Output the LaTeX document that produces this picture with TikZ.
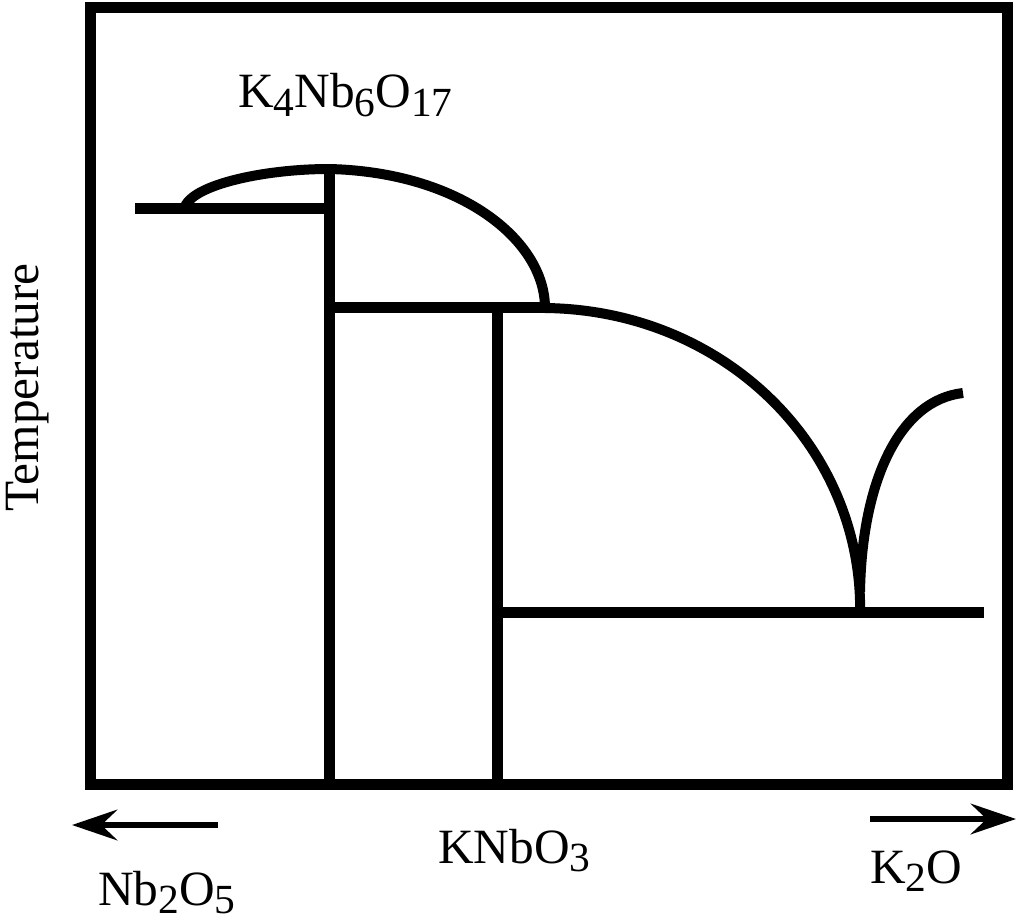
\documentclass[tikz,border=0pt]{standalone}
\usepackage{fontspec}
\setmainfont{Liberation Serif}
\usetikzlibrary{arrows.meta}
\newcommand{\chemsub}[1]{\raisebox{-0.18em}{\scalebox{0.84}{#1}}}

\begin{document}
\begin{tikzpicture}[x=0.75pt,y=0.75pt,yscale=-1,xscale=1,
    frame/.style={line width=8.25pt},
    phaseline/.style={line width=8.25pt},
    liquidus/.style={line width=7.5pt},
    axisarrow/.style={line width=4.5pt,-{Stealth[length=34pt,width=23pt,inset=12pt]}},
    lbl/.style={inner sep=0pt,font=\fontsize{37}{40}\selectfont}]
        \useasboundingbox (0,0) rectangle (1024,924);

        %Frame
        \draw[frame] (90.5,8) rectangle (1007,784.5);

        %Straight Lines: solidus and compound lines
        \draw[phaseline] (135,208.5) -- (329,208.5);
        \draw[phaseline] (329,168) -- (329,784.5);
        \draw[phaseline] (329,307.5) -- (547,307.5);
        \draw[phaseline] (497.5,307.5) -- (497.5,784.5);
        \draw[phaseline] (497.5,612.5) -- (984,612.5);

        %Curves: liquidus
        \draw[liquidus] (184,211) .. controls (185,186) and (262,169) .. (329,169) ;
        \draw[liquidus] (329,169) .. controls (460,172) and (545,240) .. (545,308) ;
        \draw[liquidus] (545,308) .. controls (720,310) and (855,440) .. (860,600) -- (860,612) ;
        \draw[liquidus] (860,592) .. controls (862,480) and (900,400) .. (963,393) ;

        %Arrows
        \draw[axisarrow] (218,825) -- (72,825);
        \draw[axisarrow] (870,819) -- (1016,819);

        % Text Node
        \node[lbl,anchor=base west] (k4nb6o17) at (238,108) {K\chemsub{4}Nb\chemsub{6}O\chemsub{17}};
        % Text Node
        \node[lbl,anchor=base west] (knbo3) at (438,863) {KNbO\chemsub{3}};
        % Text Node
        \node[lbl,anchor=base west] (nb2o5) at (98,905) {Nb\chemsub{2}O\chemsub{5}};
        % Text Node
        \node[lbl,anchor=base west] (k2o) at (870,883) {K\chemsub{2}O};
        % Text Node
        \node[lbl,anchor=base,rotate=90] (temp) at (38,387.5) {Temperature};
\end{tikzpicture}
\end{document}
